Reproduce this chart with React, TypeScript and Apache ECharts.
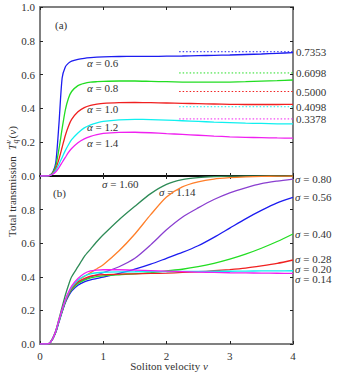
import React, { useEffect, useRef } from "react";
import * as echarts from "echarts";

// velocity grid (shared by all curves)
const V = [0, 0.1, 0.15, 0.2, 0.25, 0.3, 0.35, 0.4, 0.45, 0.5, 0.6, 0.7, 0.8, 0.9, 1.0, 1.25, 1.5, 1.75, 2.0, 2.25, 2.5, 2.75, 3.0, 3.25, 3.5, 3.75, 4.0];

// panel (a): alpha curves
const alphaNames = ["0.6", "0.8", "1.0", "1.2", "1.4"];
const alphaColors = ["#1c1cf0", "#22dd22", "#f02020", "#10f0f0", "#f020f0"];
const Ta06 = [0, 0, 0.003, 0.02, 0.08, 0.31, 0.58, 0.645, 0.668, 0.68, 0.69, 0.696, 0.7, 0.703, 0.705, 0.707, 0.708, 0.708, 0.709, 0.71, 0.712, 0.714, 0.716, 0.719, 0.722, 0.726, 0.73];
const Ta08 = [0, 0, 0.003, 0.02, 0.06, 0.16, 0.28, 0.39, 0.46, 0.5, 0.535, 0.548, 0.555, 0.558, 0.56, 0.562, 0.562, 0.56, 0.558, 0.556, 0.555, 0.555, 0.556, 0.558, 0.561, 0.564, 0.568];
const Ta10 = [0, 0, 0.002, 0.015, 0.045, 0.1, 0.17, 0.24, 0.295, 0.335, 0.38, 0.405, 0.418, 0.425, 0.43, 0.434, 0.435, 0.434, 0.432, 0.43, 0.428, 0.426, 0.424, 0.423, 0.423, 0.423, 0.424];
const Ta12 = [0, 0, 0.002, 0.012, 0.035, 0.07, 0.11, 0.15, 0.185, 0.215, 0.255, 0.285, 0.303, 0.315, 0.323, 0.332, 0.335, 0.334, 0.331, 0.327, 0.323, 0.319, 0.316, 0.313, 0.311, 0.309, 0.308];
const Ta14 = [0, 0, 0.002, 0.01, 0.025, 0.05, 0.08, 0.11, 0.14, 0.163, 0.197, 0.22, 0.235, 0.245, 0.252, 0.258, 0.259, 0.256, 0.251, 0.246, 0.241, 0.236, 0.232, 0.229, 0.227, 0.225, 0.224];
const alphaSeries = [Ta06, Ta08, Ta10, Ta12, Ta14];
const asymptotes = [0.7353, 0.6098, 0.5, 0.4098, 0.3378];
const asymptoteRange = [2.2, 4];

// panel (b): sigma curves
const sigmaNames = ["1.60", "1.14", "0.80", "0.56", "0.40", "0.28", "0.20", "0.14"];
const sigmaColors = ["#2e8b57", "#ff7f2a", "#8a3fd0", "#1c1cf0", "#22dd22", "#f02020", "#10f0f0", "#f020f0"];
const Ts160 = [0, 0, 0.005, 0.035, 0.08, 0.15, 0.22, 0.29, 0.35, 0.4, 0.46, 0.52, 0.565, 0.61, 0.65, 0.74, 0.82, 0.895, 0.95, 0.978, 0.99, 0.996, 0.999, 1, 1, 1, 1];
const Ts114 = [0, 0, 0.005, 0.03, 0.075, 0.14, 0.2, 0.255, 0.3, 0.335, 0.378, 0.402, 0.425, 0.448, 0.472, 0.555, 0.655, 0.77, 0.875, 0.935, 0.965, 0.982, 0.99, 0.995, 0.998, 0.999, 1];
const Ts080 = [0, 0, 0.005, 0.03, 0.075, 0.14, 0.2, 0.255, 0.3, 0.33, 0.365, 0.385, 0.4, 0.412, 0.425, 0.46, 0.51, 0.59, 0.68, 0.755, 0.81, 0.86, 0.9, 0.93, 0.955, 0.97, 0.982];
const Ts056 = [0, 0, 0.005, 0.03, 0.07, 0.13, 0.19, 0.245, 0.285, 0.315, 0.35, 0.37, 0.382, 0.39, 0.398, 0.42, 0.445, 0.475, 0.51, 0.545, 0.585, 0.635, 0.69, 0.745, 0.795, 0.84, 0.873];
const Ts040 = [0, 0, 0.005, 0.03, 0.072, 0.135, 0.195, 0.25, 0.292, 0.322, 0.36, 0.38, 0.394, 0.401, 0.406, 0.412, 0.417, 0.425, 0.435, 0.445, 0.46, 0.48, 0.505, 0.535, 0.57, 0.61, 0.655];
const Ts028 = [0, 0, 0.005, 0.03, 0.074, 0.138, 0.198, 0.253, 0.297, 0.33, 0.37, 0.39, 0.404, 0.41, 0.413, 0.416, 0.418, 0.42, 0.422, 0.426, 0.43, 0.436, 0.443, 0.452, 0.465, 0.48, 0.5];
const Ts020 = [0, 0, 0.005, 0.03, 0.075, 0.14, 0.2, 0.258, 0.302, 0.337, 0.38, 0.405, 0.418, 0.424, 0.427, 0.429, 0.43, 0.431, 0.431, 0.432, 0.432, 0.433, 0.433, 0.434, 0.435, 0.435, 0.436];
const Ts014 = [0, 0, 0.005, 0.031, 0.077, 0.143, 0.205, 0.263, 0.308, 0.345, 0.39, 0.42, 0.435, 0.44, 0.442, 0.442, 0.44, 0.437, 0.434, 0.431, 0.428, 0.426, 0.424, 0.423, 0.422, 0.421, 0.42];
const sigmaSeries = [Ts160, Ts114, Ts080, Ts056, Ts040, Ts028, Ts020, Ts014];

const xTicks = [0, 1, 2, 3, 4];
const yTicks = [0, 0.2, 0.4, 0.6, 0.8, 1.0];

const FONT = "'Liberation Serif', 'Times New Roman', serif";
const GRAY = "#808080";
const TXT = "#333";

function xAxisDef(gridIndex: number, position: string, color: string, width: number, labels: boolean) {
  return {
    gridIndex, type: "value", position,
    min: xTicks[0], max: xTicks[xTicks.length - 1], interval: 1,
    axisLine: { onZero: false, lineStyle: { color, width } },
    axisTick: { inside: true, length: 3, lineStyle: { color: "#222", width: 1 } },
    axisLabel: { show: labels, fontFamily: FONT, fontSize: 11, color: TXT, margin: 6 },
    splitLine: { show: false },
  };
}
function yAxisDef(gridIndex: number, position: string, labels: boolean, hideTop: boolean) {
  return {
    gridIndex, type: "value", position,
    min: yTicks[0], max: yTicks[yTicks.length - 1], interval: 0.2,
    axisLine: { onZero: false, lineStyle: { color: GRAY, width: 2 } },
    axisTick: { inside: true, length: 3, lineStyle: { color: "#222", width: 1 } },
    axisLabel: {
      show: labels, fontFamily: FONT, fontSize: 11, color: TXT, margin: 5,
      formatter: (v: number) => (hideTop && v > 0.99 ? "" : v.toFixed(1)),
    },
    splitLine: { show: false },
  };
}

function txt(x: number, y: number, text: string, lineHeight = 13) {
  return {
    type: "text", x, y, silent: true,
    style: {
      text, fill: TXT, fontFamily: FONT, fontSize: 11, lineHeight,
      align: "left", verticalAlign: "middle", textAlign: "left", textVerticalAlign: "middle",
      rich: { i: { fontStyle: "italic", fontFamily: FONT, fontSize: 11, fill: TXT, lineHeight } },
    },
  };
}

export default function App() {
  const ref = useRef<HTMLDivElement>(null);
  useEffect(() => {
    if (!ref.current) return;
    const chart = echarts.init(ref.current, undefined, { renderer: "svg" });

    const series: any[] = [];
    alphaSeries.forEach((vals, i) => {
      series.push({
        type: "line", xAxisIndex: 0, yAxisIndex: 0,
        data: V.map((v, k) => [v, vals[k]]),
        showSymbol: false, smooth: 0.25,
        color: alphaColors[i],
        lineStyle: { color: alphaColors[i], width: 1.3 },
      });
    });
    asymptotes.forEach((a, i) => {
      series.push({
        type: "line", xAxisIndex: 0, yAxisIndex: 0,
        data: asymptoteRange.map((v) => [v, a]),
        showSymbol: false, silent: true,
        color: alphaColors[i],
        lineStyle: { color: alphaColors[i], width: 1, type: [1.5, 2] },
        endLabel: {
          show: true, distance: 3, formatter: a.toFixed(4),
          fontFamily: FONT, fontSize: 11, color: TXT,
        },
      });
    });
    sigmaSeries.forEach((vals, i) => {
      series.push({
        type: "line", xAxisIndex: 2, yAxisIndex: 2,
        data: V.map((v, k) => [v, vals[k]]),
        showSymbol: false, smooth: 0.25,
        color: sigmaColors[i],
        lineStyle: { color: sigmaColors[i], width: 1.3 },
      });
    });

    const alphaLabelY = [63, 88, 109, 127, 143];
    const sigmaRightY = [179, 197, 234, 258.5, 268.5, 278.5];
    const graphic: any[] = [];
    alphaNames.forEach((a, i) => graphic.push(txt(87, alphaLabelY[i], `{i|α} = ${a}`)));
    graphic.push(txt(55, 25, "(a)"));
    graphic.push(txt(53, 193, "(b)"));
    graphic.push(txt(102, 184, `{i|σ} = ${sigmaNames[0]}`));
    graphic.push(txt(159, 192, `{i|σ} = ${sigmaNames[1]}`));
    sigmaNames.slice(2).forEach((s, i) => graphic.push(txt(295, sigmaRightY[i], `{i|σ} = ${s}`, i >= 3 ? 9.5 : 13)));
    // x axis title
    graphic.push({
      type: "text", x: 169, y: 366, silent: true,
      style: {
        text: "Soliton velocity {i|v}", fill: TXT, fontFamily: FONT, fontSize: 11,
        align: "center", verticalAlign: "middle", textAlign: "center", textVerticalAlign: "middle",
        rich: { i: { fontStyle: "italic", fontFamily: FONT, fontSize: 11, fill: TXT } },
      },
    });
    // y axis title (rotated)
    const base = { fill: TXT, fontFamily: FONT, align: "left", verticalAlign: "middle", textAlign: "left", textVerticalAlign: "middle" };
    graphic.push({
      type: "group", x: 12, y: 237, rotation: Math.PI / 2, silent: true,
      children: [
        { type: "text", x: 0, y: 0, style: { ...base, text: "Total transmission", fontSize: 11 } },
        { type: "text", x: 87, y: 0, style: { ...base, text: "T", fontSize: 11, fontStyle: "italic" } },
        { type: "text", x: 93.5, y: 3, style: { ...base, text: "q", fontSize: 8, fontStyle: "italic" } },
        { type: "text", x: 93.5, y: -4, style: { ...base, text: "v", fontSize: 8, fontStyle: "italic" } },
        { type: "text", x: 98.5, y: 0, style: { ...base, text: "(", fontSize: 11 } },
        { type: "text", x: 102.3, y: 0, style: { ...base, text: "v", fontSize: 11, fontStyle: "italic" } },
        { type: "text", x: 107.3, y: 0, style: { ...base, text: ")", fontSize: 11 } },
      ],
    });

    chart.setOption({
      animation: false,
      backgroundColor: "#ffffff",
      grid: [
        { left: 40, top: 7, width: 253, height: 169 },
        { left: 40, top: 176, width: 253, height: 168 },
      ],
      xAxis: [
        xAxisDef(0, "bottom", "#000", 1.5, false),
        xAxisDef(0, "top", GRAY, 2, false),
        xAxisDef(1, "bottom", GRAY, 2, true),
        xAxisDef(1, "top", "#000", 1.5, false),
      ],
      yAxis: [
        yAxisDef(0, "left", true, false),
        yAxisDef(0, "right", false, false),
        yAxisDef(1, "left", true, true),
        yAxisDef(1, "right", false, false),
      ],
      series,
      graphic,
    });
    return () => chart.dispose();
  }, []);
  return <div ref={ref} style={{ position: "absolute", left: 0, top: 0, width: 338, height: 375 }} />;
}
